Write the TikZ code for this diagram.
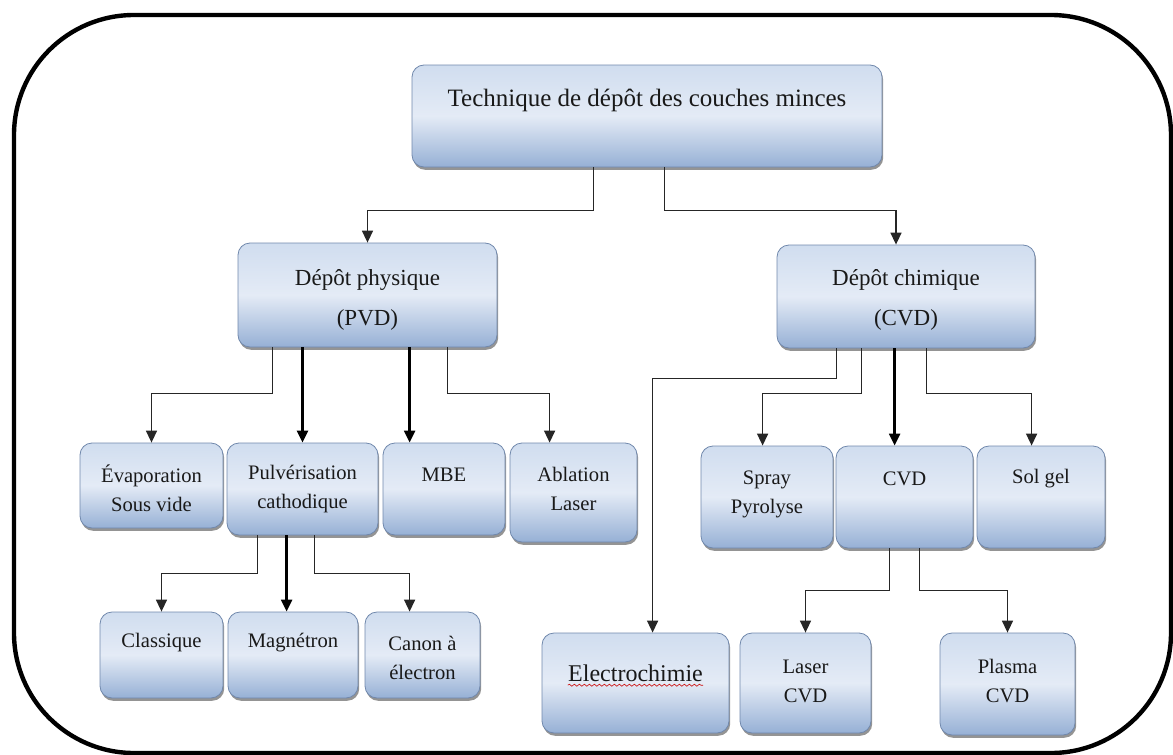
\documentclass[tikz,border=0pt]{standalone}
\usepackage{fontspec}
\setmainfont{Liberation Serif}
\usetikzlibrary{positioning,arrows.meta,calc,fit,shadows,decorations.pathmorphing}
\definecolor{boxtop}{RGB}{208,221,239}
\definecolor{boxmid}{RGB}{228,235,246}
\definecolor{boxbot}{RGB}{150,176,213}
\definecolor{boxline}{RGB}{112,136,172}
\definecolor{txtgray}{RGB}{25,25,25}
\tikzset{
  methode/.style={draw=boxline,line width=0.4pt,rounded corners=6pt,inner sep=0pt,top color=boxtop,bottom color=boxbot,middle color=boxmid,drop shadow={shadow xshift=0.6pt,shadow yshift=-1.4pt,opacity=0.6,fill=black!70}},
  texte/.style={align=center,inner sep=0pt,text=txtgray,font=\fontsize{10.3}{14.5}\selectfont},
  flow/.style={-{Triangle[length=6pt,width=5.5pt]},line width=0.75pt,draw=black!85},
  flowthick/.style={flow,line width=1.15pt,draw=black}
}

\begin{document}
\begin{tikzpicture}[x=0.5pt,y=-0.5pt]
\useasboundingbox (0,0) rectangle (1173,755);
% cadre
\draw[line width=2.2pt,rounded corners=60pt] (14,15) rectangle (1171,753);

% niveau 0 et 1
\node[methode,fit={(412,65) (882,167)}] (top) {};
\node[texte,font=\fontsize{12.5}{15}\selectfont] (toptxt) at (647,100) {Technique de dépôt des couches minces};
\node[methode,fit={(238,243) (497,347)}] (pvd) {};
\node[texte,font=\fontsize{11.5}{20}\selectfont] (pvdtxt) at (367.5,300) {Dépôt physique\\(PVD)};
\node[methode,fit={(777,245) (1035,348)}] (cvd) {};
\node[texte,font=\fontsize{11.5}{20}\selectfont] (cvdtxt) at (906,300) {Dépôt chimique\\(CVD)};

% niveau 2
\node[methode,fit={(80,443) (223,528)}] (evap) {};
\node[texte] (evaptxt) at (151.5,488) {Évaporation\\Sous vide};
\node[methode,fit={(227,443) (378,535)}] (pulv) {};
\node[texte] (pulvtxt) at (302.5,489) {Pulvérisation\\cathodique};
\node[methode,fit={(383,443) (505,535)}] (mbe) {};
\node[texte] (mbetxt) at (444,475) {MBE};
\node[methode,fit={(510,443) (637,542)}] (abl) {};
\node[texte] (abltxt) at (573.5,489) {Ablation\\Laser};
\node[methode,fit={(701,446) (833,548)}] (spray) {};
\node[texte] (spraytxt) at (767,494) {Spray\\Pyrolyse};
\node[methode,fit={(836,446) (973,548)}] (cvdm) {};
\node[texte] (cvdmtxt) at (904.5,479) {CVD};
\node[methode,fit={(977,446) (1105,548)}] (solgel) {};
\node[texte] (soltxt) at (1041,479) {Sol gel};

% niveau 3
\node[methode,fit={(100,612) (223,698)}] (classique) {};
\node[texte] (clatxt) at (161.5,643) {Classique};
\node[methode,fit={(228,612) (358,698)}] (magnetron) {};
\node[texte] (magtxt) at (293,643) {Magnétron};
\node[methode,fit={(365,612) (480,698)}] (canon) {};
\node[texte] (cantxt) at (422.5,658) {Canon à\\électron};
\node[methode,fit={(542,633) (729,733)}] (elec) {};
\node[texte,font=\fontsize{12}{14}\selectfont] (eltxt) at (635.5,673) {Electrochimie};
\draw[red!80!black,line width=0.3pt,decorate,decoration={snake,amplitude=0.5pt,segment length=2.5pt}] ([yshift=-2pt]eltxt.base west) -- ([yshift=-2pt]eltxt.base east);
\node[methode,fit={(740,633) (871,733)}] (laser) {};
\node[texte] (lastxt) at (805.5,681) {Laser\\CVD};
\node[methode,fit={(940,633) (1075,735)}] (plasma) {};
\node[texte] (plasmatxt) at (1007.5,681) {Plasma\\CVD};

% fleches
\draw[flow] ([xshift=91pt]top.south west) -- ++(0,43) -| (pvd.north);
\draw[flow] ([xshift=126.5pt]top.south west) -- ++(0,43) -| ([xshift=-5pt]cvd.north);

\draw[flow] ([xshift=17.5pt]pvd.south west) -- ++(0,46) -| (evap.north);
\draw[flowthick] (pvd.south -| pulv.north) -- (pulv.north);
\draw[flowthick] ([xshift=86pt]pvd.south west) -- ([xshift=13.5pt]mbe.north west);
\draw[flow] ([xshift=105pt]pvd.south west) -- ++(0,46) -| ([xshift=20pt]abl.north west);

\draw[flow] ([xshift=30pt]cvd.south west) -- ++(0,30) -| ([xshift=55.5pt]elec.north west);
\draw[flow] ([xshift=42.5pt]cvd.south west) -- ++(0,45) -| ([xshift=31pt]spray.north west);
\draw[flowthick] ([xshift=59pt]cvd.south west) -- ([xshift=29.5pt]cvdm.north west);
\draw[flow] ([xshift=75pt]cvd.south west) -- ++(0,45) -| ([xshift=27.5pt]solgel.north west);

\draw[flow] ([xshift=15.5pt]pulv.south west) -- ++(0,38) -| (classique.north);
\draw[flowthick] ([xshift=30pt]pulv.south west) -- ([xshift=29.5pt]magnetron.north west);
\draw[flow] ([xshift=44pt]pulv.south west) -- ++(0,38) -| ([xshift=22.5pt]canon.north west);

\draw[flow] ([xshift=27pt]cvdm.south west) -- ++(0,42) -| (laser.north);
\draw[flow] ([xshift=42pt]cvdm.south west) -- ++(0,42) -| (plasma.north);
\end{tikzpicture}
\end{document}
